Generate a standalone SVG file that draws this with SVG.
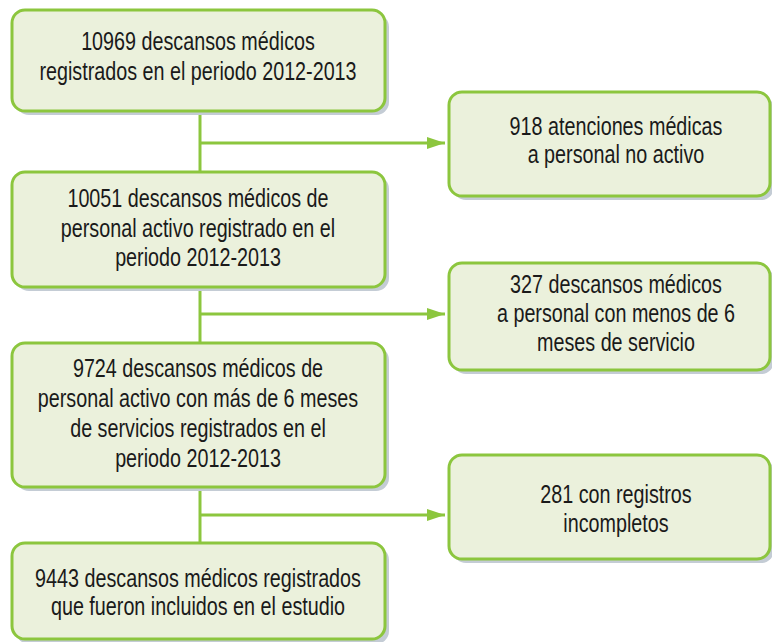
<svg xmlns="http://www.w3.org/2000/svg" width="772" height="642" viewBox="0 0 772 642">
  <defs>
    <style>
      .box { fill: #ebf1dc; stroke: #8cc63e; stroke-width: 3; }
      .shadow { fill: #c4ccd5; }
      .line { stroke: #8cc63e; stroke-width: 3; fill: none; }
      .txt { font-family: "Liberation Sans", Arial, sans-serif; font-size: 25px; fill: #1a1a1a; text-anchor: middle; }
    </style>
    <marker id="arrow" markerUnits="userSpaceOnUse" markerWidth="20" markerHeight="14" refX="18" refY="6" orient="auto">
      <path d="M0,0 L18,6 L0,12 Z" fill="#8cc63e"/>
    </marker>
  </defs>
  <rect width="772" height="642" fill="#ffffff"/>

  <g id="connectors">
    <line class="line" x1="200" y1="111" x2="200" y2="172"/>
    <line class="line" x1="200" y1="287" x2="200" y2="343"/>
    <line class="line" x1="200" y1="487" x2="200" y2="543"/>
    <line class="line" x1="200" y1="143" x2="445" y2="143" marker-end="url(#arrow)"/>
    <line class="line" x1="200" y1="314" x2="445" y2="314" marker-end="url(#arrow)"/>
    <line class="line" x1="200" y1="515" x2="445" y2="515" marker-end="url(#arrow)"/>
  </g>

  <g id="node1">
    <rect class="shadow" x="16" y="14" width="373" height="101" rx="13"/>
    <rect class="box" x="12" y="10" width="373" height="101" rx="13"/>
    <g transform="translate(198,0) scale(0.79,1)">
      <text class="txt" x="0" y="50">10969 descansos médicos</text>
      <text class="txt" x="0" y="80">registrados en el periodo 2012-2013</text>
    </g>
  </g>

  <g id="node2">
    <rect class="shadow" x="16" y="176" width="373" height="115" rx="13"/>
    <rect class="box" x="12" y="172" width="373" height="115" rx="13"/>
    <g transform="translate(198,0) scale(0.79,1)">
      <text class="txt" x="0" y="207">10051 descansos médicos de</text>
      <text class="txt" x="0" y="237">personal activo registrado en el</text>
      <text class="txt" x="0" y="266">periodo 2012-2013</text>
    </g>
  </g>

  <g id="node3">
    <rect class="shadow" x="16" y="347" width="373" height="144" rx="13"/>
    <rect class="box" x="12" y="343" width="373" height="144" rx="13"/>
    <g transform="translate(198,0) scale(0.79,1)">
      <text class="txt" x="0" y="377">9724 descansos médicos de</text>
      <text class="txt" x="0" y="407">personal activo con más de 6 meses</text>
      <text class="txt" x="0" y="437">de servicios registrados en el</text>
      <text class="txt" x="0" y="467">periodo 2012-2013</text>
    </g>
  </g>

  <g id="node4">
    <rect class="shadow" x="16" y="547" width="373" height="97" rx="13"/>
    <rect class="box" x="12" y="543" width="373" height="96" rx="13"/>
    <g transform="translate(198,0) scale(0.79,1)">
      <text class="txt" x="0" y="587">9443 descansos médicos registrados</text>
      <text class="txt" x="0" y="615">que fueron incluidos en el estudio</text>
    </g>
  </g>

  <g id="nodeA">
    <rect class="shadow" x="453" y="96" width="321" height="104" rx="13"/>
    <rect class="box" x="449" y="92" width="321" height="104" rx="13"/>
    <g transform="translate(616,0) scale(0.79,1)">
      <text class="txt" x="0" y="135">918 atenciones médicas</text>
      <text class="txt" x="0" y="163">a personal no activo</text>
    </g>
  </g>

  <g id="nodeB">
    <rect class="shadow" x="453" y="267" width="321" height="107" rx="13"/>
    <rect class="box" x="449" y="263" width="321" height="107" rx="13"/>
    <g transform="translate(616,0) scale(0.79,1)">
      <text class="txt" x="0" y="293">327 descansos médicos</text>
      <text class="txt" x="0" y="322">a personal con menos de 6</text>
      <text class="txt" x="0" y="351">meses de servicio</text>
    </g>
  </g>

  <g id="nodeC">
    <rect class="shadow" x="453" y="459" width="321" height="104" rx="13"/>
    <rect class="box" x="449" y="455" width="321" height="104" rx="13"/>
    <g transform="translate(616,0) scale(0.79,1)">
      <text class="txt" x="0" y="503">281 con registros</text>
      <text class="txt" x="0" y="532">incompletos</text>
    </g>
  </g>
</svg>
